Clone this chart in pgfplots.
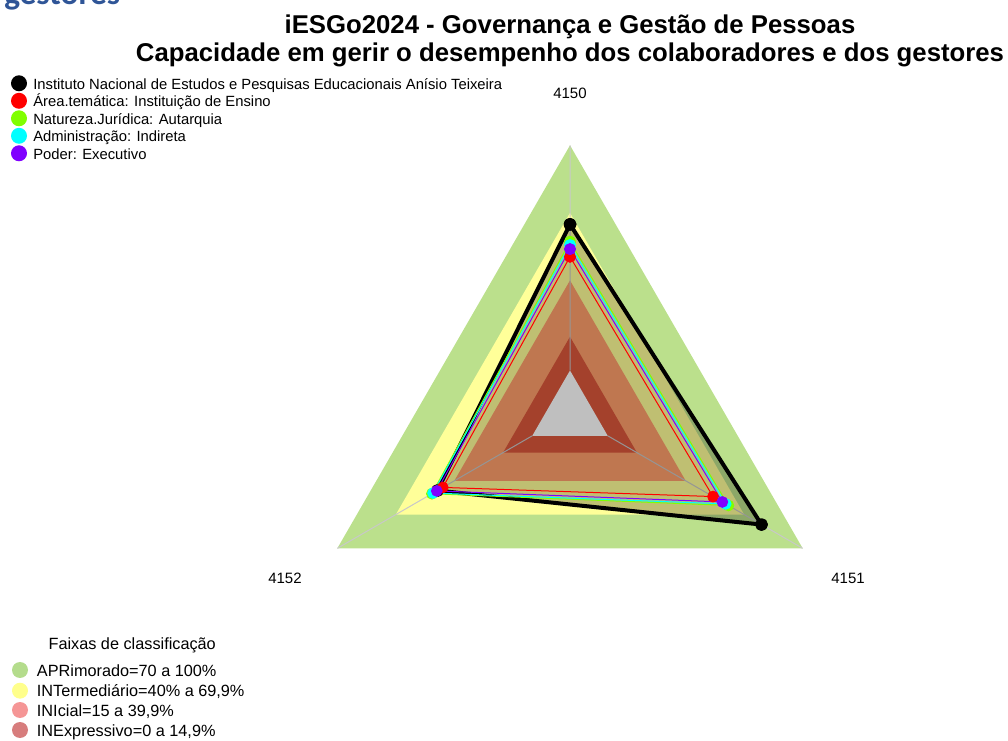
\documentclass[border=0pt]{standalone}
\usepackage{pgfplots}
\pgfplotsset{compat=1.18}
\usepackage{pgfplotstable}
\usepackage{fontspec}
\setmainfont{Liberation Sans}
\newfontfamily\carlito{Carlito}

\definecolor{cApr}{RGB}{187,224,140}
\definecolor{cInt}{RGB}{255,255,153}
\definecolor{cIni}{RGB}{255,160,107}
\definecolor{cInex}{RGB}{220,87,60}
\definecolor{lApr}{RGB}{180,220,140}
\definecolor{lInt}{RGB}{255,255,140}
\definecolor{lIni}{RGB}{245,150,150}
\definecolor{lInex}{RGB}{215,125,125}
\definecolor{cRed}{RGB}{255,0,0}
\definecolor{cGreen}{RGB}{128,255,0}
\definecolor{cCyan}{RGB}{0,255,255}
\definecolor{cPurple}{RGB}{128,0,255}
\definecolor{cBlue}{RGB}{47,85,151}
\definecolor{cSpoke}{RGB}{200,200,200}

% band levels (percent), angle a in degrees
\pgfplotstableread{
a    apr  int  ini  inex  zero
90   100  70   40   15    0
330  100  70   40   15    0
210  100  70   40   15    0
90   100  70   40   15    0
}\bands

% series values (percent) for 4150 (90), 4151 (330), 4152 (210)
\pgfplotstableread{
a    inst  area  nat   adm   pod
90   64.9  50.5  57.2  55.7  53.9
330  78.9  54.0  61.9  60.5  58.8
210  48.7  45.9  51.5  50.9  49.0
90   64.9  50.5  57.2  55.7  53.9
}\series

\newcommand{\RR}[1]{(0.162+0.838*\thisrow{#1}/100)}

\begin{document}
\begin{tikzpicture}[x=0.75pt,y=0.75pt]
\useasboundingbox (0,0) rectangle (1008,740);

\begin{axis}[
  x=201.5pt, y=201.5pt,
  xmin=-1, xmax=1, ymin=-1, ymax=1,
  hide axis, clip=false,
  anchor=center, at={(427.5pt,244.5pt)},
]
% bands
\addplot[fill=cApr, draw=none] table[x expr={\RR{apr}*cos(\thisrow{a})}, y expr={\RR{apr}*sin(\thisrow{a})}] {\bands};
\addplot[fill=cInt, draw=none] table[x expr={\RR{int}*cos(\thisrow{a})}, y expr={\RR{int}*sin(\thisrow{a})}] {\bands};
\addplot[fill=cIni, draw=none] table[x expr={\RR{ini}*cos(\thisrow{a})}, y expr={\RR{ini}*sin(\thisrow{a})}] {\bands};
\addplot[fill=cInex, draw=none] table[x expr={\RR{inex}*cos(\thisrow{a})}, y expr={\RR{inex}*sin(\thisrow{a})}] {\bands};
\addplot[fill=white, draw=none] table[x expr={\RR{zero}*cos(\thisrow{a})}, y expr={\RR{zero}*sin(\thisrow{a})}] {\bands};
% spokes
\addplot[cSpoke, line width=0.75pt, empty line=jump] table[x expr={\RR{p}*cos(\thisrow{a})}, y expr={\RR{p}*sin(\thisrow{a})}] {
a p
90 0
90 100

330 0
330 100

210 0
210 100
};
% series
\addplot[draw=none, fill=black, fill opacity=0.25] table[x expr={\RR{inst}*cos(\thisrow{a})}, y expr={\RR{inst}*sin(\thisrow{a})}] {\series};
\addplot[black, line width=3pt, line join=round, mark=*, mark size=3.3pt, mark options={fill=black, draw=none}] table[x expr={\RR{inst}*cos(\thisrow{a})}, y expr={\RR{inst}*sin(\thisrow{a})}] {\series};
\addplot[cRed, line width=0.75pt, mark=*, mark size=4pt, mark options={fill=cRed, draw=none}] table[x expr={\RR{area}*cos(\thisrow{a})}, y expr={\RR{area}*sin(\thisrow{a})}] {\series};
\addplot[cGreen, line width=0.75pt, mark=*, mark size=4pt, mark options={fill=cGreen, draw=none}] table[x expr={\RR{nat}*cos(\thisrow{a})}, y expr={\RR{nat}*sin(\thisrow{a})}] {\series};
\addplot[cCyan, line width=0.75pt, mark=*, mark size=4pt, mark options={fill=cCyan, draw=none}] table[x expr={\RR{adm}*cos(\thisrow{a})}, y expr={\RR{adm}*sin(\thisrow{a})}] {\series};
\addplot[cPurple, line width=0.75pt, mark=*, mark size=4pt, mark options={fill=cPurple, draw=none}] table[x expr={\RR{pod}*cos(\thisrow{a})}, y expr={\RR{pod}*sin(\thisrow{a})}] {\series};
\end{axis}

% clipped slide heading
\node[anchor=base west, inner sep=0, text=cBlue, font=\carlito\bfseries\fontsize{25}{30}\selectfont] at (4,735) {gestores};

% title
\node[anchor=base, inner sep=0, font=\bfseries\fontsize{19.3}{23}\selectfont] at (570,706.7) {iESGo2024 - Governança e Gestão de Pessoas};
\node[anchor=base, inner sep=0, font=\bfseries\fontsize{19.3}{23}\selectfont] at (570,678.3) {Capacidade em gerir o desempenho dos colaboradores e dos gestores};

% axis labels
\node[anchor=base, inner sep=0, font=\fontsize{11.25}{13}\selectfont] at (570,641.5) {4150};
\node[anchor=base, inner sep=0, font=\fontsize{11.25}{13}\selectfont] at (848,156.5) {4151};
\node[anchor=base, inner sep=0, font=\fontsize{11.25}{13}\selectfont] at (285,156.5) {4152};

% series legend
\begin{scope}[every node/.style={anchor=base west, inner sep=0, font=\fontsize{11.1}{13}\selectfont}]
\fill[black]   (19,656.7) circle (8);  \node at (33,650.7) {Instituto Nacional de Estudos e Pesquisas Educacionais Anísio Teixeira};
\fill[cRed]    (19,639.2) circle (8);  \node at (33,633.2) {Área.temática: Instituição de Ensino};
\fill[cGreen]  (19,621.7) circle (8);  \node at (33,615.7) {Natureza.Jurídica: Autarquia};
\fill[cCyan]   (19,604.2) circle (8);  \node at (33,598.2) {Administração: Indireta};
\fill[cPurple] (19,586.7) circle (8);  \node at (33,580.7) {Poder: Executivo};
\end{scope}

% band legend
\begin{scope}[every node/.style={anchor=base west, inner sep=0, font=\fontsize{12.2}{14}\selectfont}]
\node at (48.3,90.7) {Faixas de classificação};
\fill[lApr]  (20,70)   circle (8); \node at (36.7,63.3) {APRimorado=70 a 100\%};
\fill[lInt]  (20,49.3) circle (8); \node at (36.7,44)   {INTermediário=40\% a 69,9\%};
\fill[lIni]  (20,30)   circle (8); \node at (36.7,23.3) {INIcial=15 a 39,9\%};
\fill[lInex] (20,10)   circle (8); \node at (36.7,3.7)  {INExpressivo=0 a 14,9\%};
\end{scope}
\end{tikzpicture}
\end{document}
